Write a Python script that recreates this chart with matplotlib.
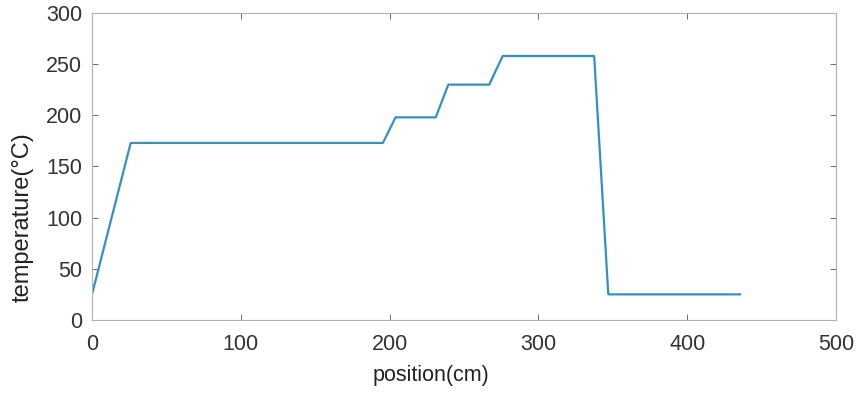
import numpy as np
import matplotlib.pyplot as plt

# furnace temperature profile along the conveyor
position = [0, 26, 195.5, 204, 231, 239.5, 267, 276, 337.5, 347, 435.5]
temperature = [25, 173, 173, 198, 198, 230, 230, 258, 258, 25, 25]

xticks = [0, 100, 200, 300, 400, 500]
yticks = [0, 50, 100, 150, 200, 250, 300]

plt.rcParams['font.family'] = ['Liberation Sans', 'DejaVu Sans']

fig = plt.figure(figsize=(8.6, 3.94), dpi=100)
ax = fig.add_axes([0.107, 0.188, 0.865, 0.779])

ax.plot(position, temperature, color='#3590c2', lw=1.6)

ax.set_xlim(0, 500)
ax.set_ylim(0, 300)
ax.set_xticks(xticks)
ax.set_yticks(yticks)
ax.tick_params(direction='in', top=True, right=True, length=4, width=0.6,
               color='#555555', labelsize=15.5, labelcolor='#333333')
ax.tick_params(axis='x', pad=10)
ax.tick_params(axis='y', pad=7)
for s in ax.spines.values():
    s.set_color('#b0b0b0')
    s.set_linewidth(0.8)

ax.set_xlabel('position(cm)', fontsize=15.5, color='#222222')
ax.set_ylabel('temperature(°C)', fontsize=17, color='#222222')
ax.xaxis.set_label_coords(0.456, -0.148)
ax.yaxis.set_label_coords(-0.079, 0.335)

fig.savefig('out.png', dpi=100)
